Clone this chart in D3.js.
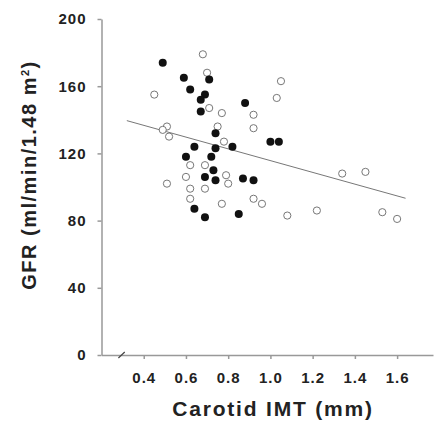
<!DOCTYPE html>
<html>
<head>
<meta charset="utf-8">
<script src="https://cdn.jsdelivr.net/npm/d3@7"></script>
<style>
  body { margin: 0; background: #fff; }
  svg { font-family: "Liberation Sans", Arial, sans-serif; }
</style>
</head>
<body>
<div id="chart"></div>
<script>
// valeurs : IMT carotidien (mm) / DFG
const filledIMT = [0.49, 0.59, 0.71, 0.62, 0.69, 0.67, 0.67, 0.88, 0.74, 0.64, 0.74, 0.82,
                   1.00, 1.04, 0.60, 0.72, 0.73, 0.69, 0.74, 0.87, 0.92, 0.64, 0.69, 0.85]
const filledGFR = [174, 165, 164, 158, 155, 152, 145, 150, 132, 124, 123, 124,
                   127, 127, 118, 118, 110, 106, 104, 105, 104, 87, 82, 84]

const openIMT = [0.68, 0.70, 1.05, 0.45, 1.03, 0.71, 0.77, 0.92, 0.51, 0.49, 0.52, 0.75,
                 0.92, 0.78, 0.62, 0.69, 1.34, 1.45, 0.51, 0.60, 0.79, 0.80, 0.62, 0.62,
                 0.69, 0.77, 0.92, 0.96, 1.08, 1.22, 1.53, 1.60]
const openGFR = [179, 168, 163, 155, 153, 147, 144, 143, 136, 134, 130, 136,
                 135, 127, 113, 113, 108, 109, 102, 106, 107, 102, 99, 93,
                 99, 90, 93, 90, 83, 86, 85, 81]

// droite de régression
const lineIMT = [0.32, 1.64]
const lineGFR = [139.5, 93.3]

const xTicks = [0.4, 0.6, 0.8, 1.0, 1.2, 1.4, 1.6]
const yTicks = [0, 40, 80, 120, 160, 200]

const width = 441
const height = 423

const svg = d3.select("#chart")
              .append("svg")
              .attr("width", width)
              .attr("height", height)

const x = d3.scaleLinear()
            .domain([0.2, 1.77])
            .range([101.5, 433])

const y = d3.scaleLinear()
            .domain([0, 200])
            .range([355, 19])

// axes
svg.append("g")
   .attr("transform", `translate(${x(0.2)}, 0)`)
   .call(d3.axisLeft(y).tickValues(yTicks).tickFormat(d3.format("d")).tickSize(4).tickSizeOuter(0).tickPadding(11))

svg.append("g")
   .attr("transform", `translate(0, ${y(0)})`)
   .call(d3.axisBottom(x).tickValues(xTicks).tickFormat(d3.format(".1f")).tickSize(4).tickSizeOuter(0).tickPadding(13))

svg.selectAll(".domain, .tick line")
   .attr("stroke", "#999")
   .attr("stroke-width", 1.5)

svg.selectAll(".tick text")
   .attr("fill", "#222")
   .style("font-size", "15px")
   .style("font-weight", "bold")
   .style("letter-spacing", "1px")

// petite cassure sur l'axe x
svg.append("path")
   .attr("d", `M${x(0.28)},${y(0) + 3} L${x(0.31)},${y(0) - 3}`)
   .attr("stroke", "#444")
   .attr("stroke-width", 1.2)

// droite de régression
svg.append("line")
   .attr("x1", x(lineIMT[0]))
   .attr("y1", y(lineGFR[0]))
   .attr("x2", x(lineIMT[1]))
   .attr("y2", y(lineGFR[1]))
   .attr("stroke", "#777")
   .attr("stroke-width", 1)

// points ouverts
svg.append("g")
   .selectAll("circle")
   .data(openIMT.map((d, i) => ({imt: d, gfr: openGFR[i]})))
   .join("circle")
   .attr("cx", d => x(d.imt))
   .attr("cy", d => y(d.gfr))
   .attr("r", 3.6)
   .attr("fill", "#fff")
   .attr("stroke", "#777")
   .attr("stroke-width", 1)

// points pleins
svg.append("g")
   .selectAll("circle")
   .data(filledIMT.map((d, i) => ({imt: d, gfr: filledGFR[i]})))
   .join("circle")
   .attr("cx", d => x(d.imt))
   .attr("cy", d => y(d.gfr))
   .attr("r", 4)
   .attr("fill", "#111")

// titres des axes
svg.append("text")
   .attr("text-anchor", "middle")
   .attr("x", 273)
   .attr("y", 416)
   .attr("fill", "#222")
   .style("font-size", "21px")
   .style("font-weight", "bold")
   .style("letter-spacing", "1.8px")
   .text("Carotid IMT (mm)")

const yLabel = svg.append("text")
   .attr("text-anchor", "middle")
   .attr("transform", "translate(36, 175) rotate(-90)")
   .attr("fill", "#222")
   .style("font-size", "20px")
   .style("font-weight", "bold")
   .style("letter-spacing", "1.5px")

yLabel.append("tspan").text("GFR (ml/min/1.48 m")
yLabel.append("tspan").attr("dy", -7).style("font-size", "11px").text("2")
yLabel.append("tspan").attr("dy", 7).text(")")
</script>
</body>
</html>
